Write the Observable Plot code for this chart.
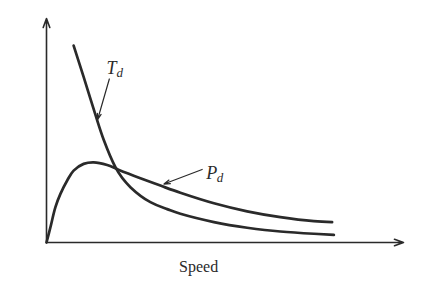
<!DOCTYPE html>
<html>
<head>
<meta charset="utf-8">
<script src="https://cdn.jsdelivr.net/npm/d3@7"></script>
<script src="https://cdn.jsdelivr.net/npm/@observablehq/plot@0.6"></script>
<style>
  html, body { margin: 0; padding: 0; background: #fff; }
</style>
</head>
<body>
<div id="chart"></div>
<script>
// Torque demand curve T_d (speed, value)
const tdSpeed = [7.6, 10.4, 14.2, 16.1, 19.3, 23.5, 29.1, 33.8, 37.5, 46.9, 56.2, 65.5, 74.9, 80.5];
const tdValue = [87.9, 73.9, 54.5, 45.5, 33.6, 24.7, 18.0, 14.9, 12.8, 9.1, 6.6, 4.9, 3.9, 3.4];
// Power demand curve P_d (speed, value)
const pdSpeed = [0, 1.1, 2.5, 3.9, 5.8, 7.6, 10.4, 13.2, 17.0, 20.3, 26.3, 31.9, 37.5, 46.9, 56.2, 65.5, 74.9, 80.0];
const pdValue = [0, 6.8, 15.8, 21.7, 27.7, 32.1, 35.1, 35.8, 34.6, 32.4, 28.7, 25.4, 22.2, 17.5, 13.9, 11.3, 9.5, 9.1];
// Axis extents
const axisEnds = [{x1: 0, y1: 0, x2: 0, y2: 100}, {x1: 0, y1: 0, x2: 100, y2: 0}];
// Annotations: label, label position, arrow from -> to
const labels = [
  {main: "T", sub: "d", x: 18.2, y: 78.0, ax1: 17.6, ay1: 73.0, ax2: 14.3, ay2: 54.8},
  {main: "P", sub: "d", x: 46.3, y: 31.0, ax1: 43.6, ay1: 32.6, ax2: 32.9, ay2: 26.1}
];
const xLabel = "Speed";
const xLabelPos = 42.6;

const td = tdSpeed.map((s, i) => ({s, v: tdValue[i]}));
const pd = pdSpeed.map((s, i) => ({s, v: pdValue[i]}));

const ink = "#2a2a2a";
const serif = "Liberation Serif, DejaVu Serif, serif";

const chart = Plot.plot({
  width: 428,
  height: 288,
  marginLeft: 46,
  marginRight: 25,
  marginTop: 18,
  marginBottom: 46,
  x: {domain: [0, 100], axis: null},
  y: {domain: [0, 100], axis: null},
  style: {background: "#fff", fontFamily: serif},
  marks: [
    Plot.arrow(axisEnds, {x1: "x1", y1: "y1", x2: "x2", y2: "y2", stroke: ink, strokeWidth: 1.6, headLength: 9, headAngle: 40}),
    Plot.line(td, {x: "s", y: "v", curve: "natural", stroke: ink, strokeWidth: 2.7}),
    Plot.line(pd, {x: "s", y: "v", curve: "catmull-rom", stroke: ink, strokeWidth: 2.7}),
    Plot.arrow(labels, {x1: "ax1", y1: "ay1", x2: "ax2", y2: "ay2", stroke: ink, strokeWidth: 1.2, headLength: 8, headAngle: 35}),
    Plot.text(labels, {x: "x", y: "y", text: "main", fontSize: 18, fontStyle: "italic", fill: ink, textAnchor: "middle"}),
    Plot.text(labels, {x: "x", y: "y", text: "sub", fontSize: 13, fontStyle: "italic", fill: ink, textAnchor: "start", dx: 5, dy: 5}),
    Plot.text([xLabel], {x: xLabelPos, y: 0, text: d => d, dy: 24, fontSize: 16, fill: ink, textAnchor: "middle"})
  ]
});
document.getElementById("chart").appendChild(chart);
</script>
</body>
</html>
